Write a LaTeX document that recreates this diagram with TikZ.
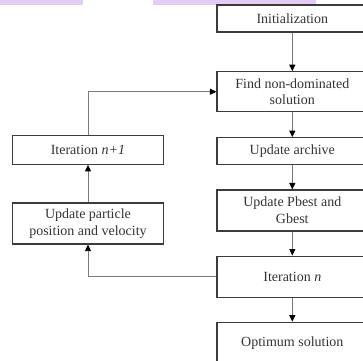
\documentclass[tikz,border=0pt]{standalone}
\usepackage{fontspec}
\setmainfont{Liberation Serif}
\usetikzlibrary{arrows.meta}
\usetikzlibrary{calc}

\definecolor{boxline}{HTML}{3C3C3C}
\definecolor{flowline}{HTML}{7A7A7A}
\definecolor{hilite}{HTML}{E3CCF5}

\tikzset{
    stepbox/.style={draw=boxline, line width=1.1pt, text=black!80, align=center,
        minimum width=150.6pt, inner sep=0pt, font=\fontsize{14}{16.7}\selectfont},
    flow/.style={draw=flowline, line width=0.8pt, -{Triangle[length=6.5pt,width=6pt,color=black]}}
}

\begin{document}
\begin{tikzpicture}[x=1pt,y=-1pt]
    \useasboundingbox (0,0) rectangle (363,360);
    \clip (0,0) rectangle (363,360);
    % cut caption strip
    \fill[hilite] (0,0) rectangle (83,5);
    \fill[hilite] (153,0) rectangle (316,5);
    % main column
    \node[stepbox, minimum height=27pt]   (init)    at (292.3,18.5)  {Initialization};
    \node[stepbox, minimum height=40pt]   (find)    at (292.3,91.7)  {Find non-dominated\\solution};
    \node[stepbox, minimum height=26.6pt] (archive) at (292.3,151)   {Update archive};
    \node[stepbox, minimum height=41pt]   (pbest)   at (292.3,210.5) {Update Pbest and\\Gbest};
    \node[stepbox, minimum height=41.3pt] (itern)   at (292.3,276.7) {Iteration \textit{n}};
    \node[stepbox, minimum height=41pt]   (optimum) at (292.3,342.7) {Optimum solution};
    % loop column
    \node[stepbox, minimum height=29pt]   (itern1)   at (88,149.8)  {Iteration \textit{n+1}};
    \node[stepbox, minimum height=41pt]   (particle) at (88,223.5)  {Update particle\\position and velocity};
    % connectors
    \foreach \a/\b in {init/find,find/archive,archive/pbest,pbest/itern,itern/optimum,particle/itern1}
	\draw[flow] (\a) -- (\b);
    \draw[flow] (itern1.north) |- (find.west);
    \draw[flow] (itern.west) -| (particle.south);
\end{tikzpicture}
\end{document}
